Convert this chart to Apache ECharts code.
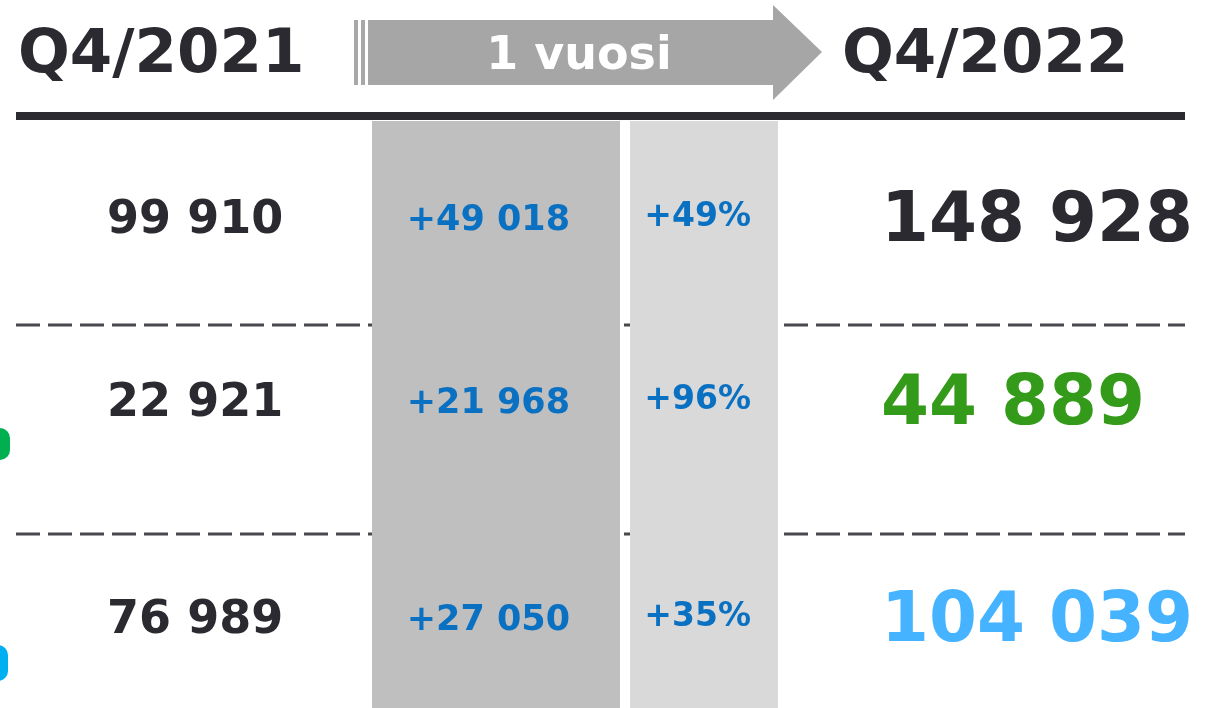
<!DOCTYPE html>
<html>
<head>
<meta charset="utf-8">
<script src="https://cdn.jsdelivr.net/npm/echarts@6/dist/echarts.min.js"></script>
<style>
  html, body { margin: 0; padding: 0; background: #ffffff; }
  #chart { width: 1207px; height: 708px; }
</style>
</head>
<body>
<div id="chart"></div>
<script>
// data
const periodLabels = ['Q4/2021', '1 vuosi', 'Q4/2022']
const rowKeys = ['rivi 1', 'rivi 2', 'rivi 3']
const columnKeys = ['q4_2021', 'muutos', 'muutos_pct', 'q4_2022']
const valuesQ4_2021 = [99910, 22921, 76989]
const changeAbs = [49018, 21968, 27050]
const changePct = [49, 96, 35]
const valuesQ4_2022 = [148928, 44889, 104039]

const FONT = '"DejaVu Sans", Verdana, sans-serif'
const DARK = '#2b2a30'
const BLUE = '#0a70c2'
const rowColors = [DARK, '#349a1a', '#45b3ff']

// 99910 -> "99 910"
const fmt = (n) => String(n).replace(/\B(?=(\d{3})+(?!\d))/g, ' ')

const chart = echarts.init(document.getElementById('chart'))

// rows are not evenly spaced in the original
const rowShift = (i) => [6, -8, 12][i]

const makeSeries = (colIdx, values, textFn, style) => ({
  type: 'scatter',
  z: 10,
  symbolSize: 1,
  itemStyle: { color: 'transparent', opacity: 1 },
  silent: true,
  data: values.map((v, i) => ({
    value: [columnKeys[colIdx], rowKeys[i]],
    label: {
      show: true,
      position: 'inside',
      formatter: textFn(v),
      fontFamily: FONT,
      fontWeight: 'bold',
      fontSize: style.fontSize,
      color: style.color ? style.color(i) : DARK,
      opacity: 1,
      align: style.align || 'center',
      verticalAlign: 'middle',
      offset: [style.dx, rowShift(i) + (style.dy || 0)]
    }
  }))
})

const option = {
  animation: false,
  backgroundColor: '#ffffff',
  grid: { left: 16, right: 22, top: 117, height: 600 },
  xAxis: {
    type: 'category',
    data: columnKeys,
    show: false
  },
  yAxis: {
    type: 'category',
    data: rowKeys,
    inverse: true,
    show: false
  },
  graphic: [
    // dashed row separators (behind the bands)
    { type: 'line', z: 1, shape: { x1: 16, y1: 325, x2: 1185, y2: 325 },
      style: { stroke: '#48484e', lineWidth: 3, lineDash: [24, 8] } },
    { type: 'line', z: 1, shape: { x1: 16, y1: 534, x2: 1185, y2: 534 },
      style: { stroke: '#48484e', lineWidth: 3, lineDash: [24, 8] } },
    // gray column bands
    { type: 'rect', z: 2, shape: { x: 372, y: 121, width: 248, height: 600 },
      style: { fill: '#bfbfbf' } },
    { type: 'rect', z: 2, shape: { x: 630, y: 121, width: 148, height: 600 },
      style: { fill: '#d9d9d9' } },
    // header rule
    { type: 'rect', z: 3, shape: { x: 16, y: 112, width: 1169, height: 8 },
      style: { fill: DARK } },
    // arrow
    { type: 'rect', z: 3, shape: { x: 354, y: 20, width: 4, height: 65 },
      style: { fill: '#a8a8a8' } },
    { type: 'rect', z: 3, shape: { x: 361, y: 20, width: 4, height: 65 },
      style: { fill: '#a8a8a8' } },
    { type: 'polygon', z: 3,
      shape: { points: [[368, 20], [773, 20], [773, 5], [822, 52], [773, 100], [773, 85], [368, 85]] },
      style: { fill: '#a6a6a6' } },
    { type: 'text', z: 4, x: 579, y: 57,
      style: { text: periodLabels[1], fill: '#ffffff', font: 'bold 46px ' + FONT,
        textAlign: 'center', textVerticalAlign: 'middle' } },
    // period headers
    { type: 'text', z: 4, x: 18, y: 56,
      style: { text: periodLabels[0], fill: DARK, font: 'bold 61px ' + FONT,
        textAlign: 'left', textVerticalAlign: 'middle' } },
    { type: 'text', z: 4, x: 842, y: 56,
      style: { text: periodLabels[2], fill: DARK, font: 'bold 61px ' + FONT,
        textAlign: 'left', textVerticalAlign: 'middle' } },
    // cut-off marks at the left edge
    { type: 'rect', z: 3, shape: { x: -20, y: 428, width: 30, height: 32, r: 10 },
      style: { fill: '#00b050' } },
    { type: 'rect', z: 3, shape: { x: -20, y: 645, width: 28, height: 36, r: 10 },
      style: { fill: '#00b0f0' } }
  ],
  series: [
    makeSeries(0, valuesQ4_2021, (v) => fmt(v), { fontSize: 46, dx: 33 }),
    makeSeries(1, changeAbs, (v) => '+' + fmt(v), { fontSize: 35, dx: 34, dy: -1, color: () => BLUE }),
    makeSeries(2, changePct, (v) => '+' + v + '%', { fontSize: 33, dx: -49, dy: -4, color: () => BLUE }),
    makeSeries(3, valuesQ4_2022, (v) => fmt(v), { fontSize: 69, dx: -158, dy: 2, align: 'left', color: (i) => rowColors[i] })
  ]
}

chart.setOption(option)
</script>
</body>
</html>
